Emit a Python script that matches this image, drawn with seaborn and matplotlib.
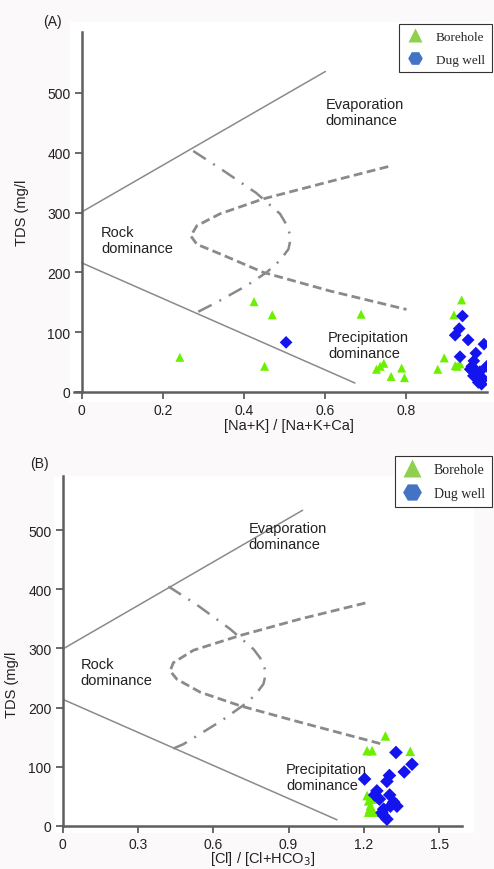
import matplotlib
matplotlib.use("Agg")
import matplotlib.pyplot as plt
from matplotlib.lines import Line2D
from matplotlib.patches import Rectangle
import pandas as pd
import seaborn as sns

# ---------------------------------------------------------------
# Gibbs diagram data
# ---------------------------------------------------------------
# Panel A : [Na+K] / [Na+K+Ca] vs TDS
bore_a_x = [0.242, 0.425, 0.470, 0.451, 0.689, 0.727, 0.736, 0.745, 0.789, 0.763,
            0.796, 0.878, 0.894, 0.921, 0.937, 0.918, 0.933, 0.926]
bore_a_y = [58, 151, 129, 43, 130, 38, 43, 48, 40, 26,
            24, 38, 57, 44, 154, 129, 47, 43]
dug_a_x = [0.504, 0.939, 0.931, 0.921, 0.953, 0.992, 0.933, 0.972, 0.967, 0.962,
           0.999, 0.972, 0.982, 0.966, 0.990, 0.978, 0.986, 0.958]
dug_a_y = [83, 127, 106, 95, 87, 80, 59, 65, 52, 43,
           43, 36, 34, 27, 22, 16, 13, 38]

# Panel B : [Cl] / [Cl+HCO3] vs TDS
bore_b_x = [1.286, 1.213, 1.233, 1.385, 1.213, 1.219, 1.226, 1.219, 1.239, 1.223,
            1.332, 1.240]
bore_b_y = [152, 127, 127, 126, 51, 42, 34, 23, 23, 28,
            40, 45]
dug_b_x = [1.328, 1.392, 1.361, 1.302, 1.292, 1.203, 1.252, 1.243, 1.303, 1.262,
           1.319, 1.332, 1.306, 1.279, 1.279, 1.292, 1.272]
dug_b_y = [124, 104, 91, 85, 75, 79, 59, 52, 52, 45,
           40, 33, 33, 28, 17, 11, 22]

# boundary lines of the Gibbs envelope
a_upper_x, a_upper_y = [0, 0.601], [301, 536]
a_lower_x, a_lower_y = [0, 0.674], [216, 15]
a_dash_x = [0.756, 0.612, 0.448, 0.341, 0.284, 0.269, 0.284, 0.341, 0.448, 0.612, 0.801]
a_dash_y = [377, 352, 323, 298, 278, 261, 247, 231, 200, 169, 138]
a_dashdot_x = [0.275, 0.341, 0.430, 0.489, 0.504, 0.516, 0.510, 0.489, 0.456, 0.407, 0.333, 0.275]
a_dashdot_y = [403, 374, 333, 298, 281, 259, 239, 220, 200, 178, 150, 130]

b_upper_x, b_upper_y = [0, 0.956], [299, 534]
b_lower_x, b_lower_y = [0, 1.093], [214, 10]
b_dash_x = [1.206, 0.947, 0.707, 0.521, 0.441, 0.428, 0.455, 0.548, 0.707, 0.947, 1.274]
b_dash_y = [377, 350, 322, 297, 276, 262, 248, 226, 203, 175, 138]
b_dashdot_x = [0.421, 0.528, 0.667, 0.760, 0.787, 0.811, 0.800, 0.767, 0.720, 0.634, 0.481, 0.421]
b_dashdot_y = [405, 376, 333, 299, 284, 260, 240, 221, 204, 178, 138, 127]

y_ticks = [0, 100, 200, 300, 400, 500]
a_xticks = [0, 0.2, 0.4, 0.6, 0.8]
a_xticklabels = ["0", "0.2", "0.4", "0.6", "0.8"]
b_xticks = [0, 0.3, 0.6, 0.9, 1.2, 1.5]
b_xticklabels = ["0", "0.3", "0.6", "0.9", "1.2", "1.5"]

sources = ["Borehole", "Dug well"]
point_colors = {"Borehole": "#6cf000", "Dug well": "#1414ee"}
point_markers = {"Borehole": "^", "Dug well": "D"}
legend_colors = {"Borehole": "#8fd14f", "Dug well": "#4472c4"}

LINE_GREY = "#8a8a8a"
SPINE_GREY = "#5e5e5e"
TXT = "#222222"
NOTE_SIZE = 10.5

sns.set_theme(style="white")
plt.rcParams["font.family"] = ["Liberation Sans", "DejaVu Sans"]


def make_df(bx, by, dx, dy):
    return pd.DataFrame({
        "ratio": bx + dx,
        "tds": by + dy,
        "source": ["Borehole"] * len(bx) + ["Dug well"] * len(dx),
    })


def draw_envelope(ax, upper, lower, dash, dashdot):
    ax.plot(*upper, color=LINE_GREY, lw=1.1, zorder=2)
    ax.plot(*lower, color=LINE_GREY, lw=1.1, zorder=2)
    ax.plot(*dash, color=LINE_GREY, lw=2.0, ls=(0, (3.2, 1.6)), zorder=2)
    ax.plot(*dashdot, color=LINE_GREY, lw=1.8, ls=(0, (6, 3.5, 0.8, 3.5)), zorder=2)


def style_axes(ax):
    for side in ["top", "right"]:
        ax.spines[side].set_visible(False)
    for side in ["left", "bottom"]:
        ax.spines[side].set_color(SPINE_GREY)
        ax.spines[side].set_linewidth(1.8)
    ax.tick_params(axis="both", which="both", direction="out", length=5, width=1.3,
                   color=SPINE_GREY, labelsize=10, labelcolor=TXT,
                   left=True, bottom=True, pad=3)
    ax.set_facecolor("white")


def add_legend(fig, ax, anchor, msize, fsize):
    handles = [
        Line2D([], [], ls="none", marker="^", markersize=msize[0],
               markerfacecolor=legend_colors["Borehole"], markeredgecolor="none"),
        Line2D([], [], ls="none", marker="H", markersize=msize[1],
               markerfacecolor=legend_colors["Dug well"], markeredgecolor="none"),
    ]
    leg = ax.legend(handles, sources, loc="upper left", bbox_to_anchor=anchor,
                    bbox_transform=fig.transFigure, frameon=True, fancybox=False,
                    edgecolor="#333333", framealpha=1, borderpad=0.5,
                    borderaxespad=0, labelspacing=0.8, handletextpad=0.9,
                    handlelength=1.4, prop={"family": "Liberation Serif", "size": fsize})
    leg.get_frame().set_linewidth(0.8)


fig = plt.figure(figsize=(4.94, 8.70), dpi=100)
fig.patch.set_facecolor("#fbf9fa")

# white backing panels behind each plot
fig.patches.append(Rectangle((70 / 494, 1 - 402 / 870), 424 / 494, 379 / 870,
                             transform=fig.transFigure, color="white", zorder=-10))
fig.patches.append(Rectangle((54 / 494, 1 - 833 / 870), 419 / 494, 356 / 870,
                             transform=fig.transFigure, color="white", zorder=-10))

# ---------------------- panel A ----------------------
ax1 = fig.add_axes([73.6 / 494, 1 - 393 / 870, 413.6 / 494, 360 / 870])
ax1.set_zorder(1)
df_a = make_df(bore_a_x, bore_a_y, dug_a_x, dug_a_y)
draw_envelope(ax1, (a_upper_x, a_upper_y), (a_lower_x, a_lower_y),
              (a_dash_x, a_dash_y), (a_dashdot_x, a_dashdot_y))
sns.scatterplot(data=df_a, x="ratio", y="tds", hue="source", style="source",
                palette=point_colors, markers=point_markers, s=42,
                edgecolor="none", legend=False, ax=ax1, zorder=3)
ax1.set_xlim(-0.02, 1.0)
ax1.set_ylim(0, 602)
ax1.spines["left"].set_position(("data", 0))
ax1.set_xticks(a_xticks, a_xticklabels)
ax1.set_yticks(y_ticks)
style_axes(ax1)
ax1.set_xlabel("[Na+K] / [Na+K+Ca]", fontsize=10.5, color=TXT)
ax1.set_ylabel("TDS (mg/l", fontsize=10.5, color=TXT)
ax1.yaxis.set_label_coords(-0.108, 0.5)
ax1.xaxis.set_label_coords(0.52, -0.072)
ax1.text(0.602, 468, "Evaporation\ndominance", fontsize=NOTE_SIZE, va="center",
         ha="left", color=TXT, linespacing=1.15)
ax1.text(0.048, 254, "Rock\ndominance", fontsize=NOTE_SIZE, va="center",
         ha="left", color=TXT, linespacing=1.15)
ax1.text(0.608, 79, "Precipitation\ndominance", fontsize=NOTE_SIZE, va="center",
         ha="left", color=TXT, linespacing=1.15)
fig.text(52 / 494, 1 - 22 / 870, "(A)", fontsize=10, ha="center", va="center",
         color=TXT)
add_legend(fig, ax1, (399 / 494, 1 - 25 / 870), (10, 10.5), 9.5)

# ---------------------- panel B ----------------------
ax2 = fig.add_axes([62.7 / 494, 1 - 826.7 / 870, 399 / 494, 349.7 / 870])
ax2.set_zorder(1)
df_b = make_df(bore_b_x, bore_b_y, dug_b_x, dug_b_y)
draw_envelope(ax2, (b_upper_x, b_upper_y), (b_lower_x, b_lower_y),
              (b_dash_x, b_dash_y), (b_dashdot_x, b_dashdot_y))
sns.scatterplot(data=df_b, x="ratio", y="tds", hue="source", style="source",
                palette=point_colors, markers=point_markers, s=48,
                edgecolor="none", legend=False, ax=ax2, zorder=3)
ax2.set_xlim(0, 1.59)
ax2.set_ylim(0, 592)
ax2.set_xticks(b_xticks, b_xticklabels)
ax2.set_yticks(y_ticks)
style_axes(ax2)
ax2.set_xlabel("[Cl] / [Cl+HCO$_3$]", fontsize=10.5, color=TXT)
ax2.set_ylabel("TDS (mg/l", fontsize=10.5, color=TXT)
ax2.yaxis.set_label_coords(-0.11, 0.405)
ax2.xaxis.set_label_coords(0.5, -0.068)
ax2.text(0.74, 490, "Evaporation\ndominance", fontsize=NOTE_SIZE, va="center",
         ha="left", color=TXT, linespacing=1.15)
ax2.text(0.07, 260, "Rock\ndominance", fontsize=NOTE_SIZE, va="center",
         ha="left", color=TXT, linespacing=1.15)
ax2.text(0.89, 82, "Precipitation\ndominance", fontsize=NOTE_SIZE, va="center",
         ha="left", color=TXT, linespacing=1.15)
fig.text(39 / 494, 1 - 464 / 870, "(B)", fontsize=10, ha="center", va="center",
         color=TXT)
add_legend(fig, ax2, (395 / 494, 1 - 457 / 870), (12.5, 13.5), 10)

fig.savefig("out.png", dpi=100, facecolor=fig.get_facecolor())
